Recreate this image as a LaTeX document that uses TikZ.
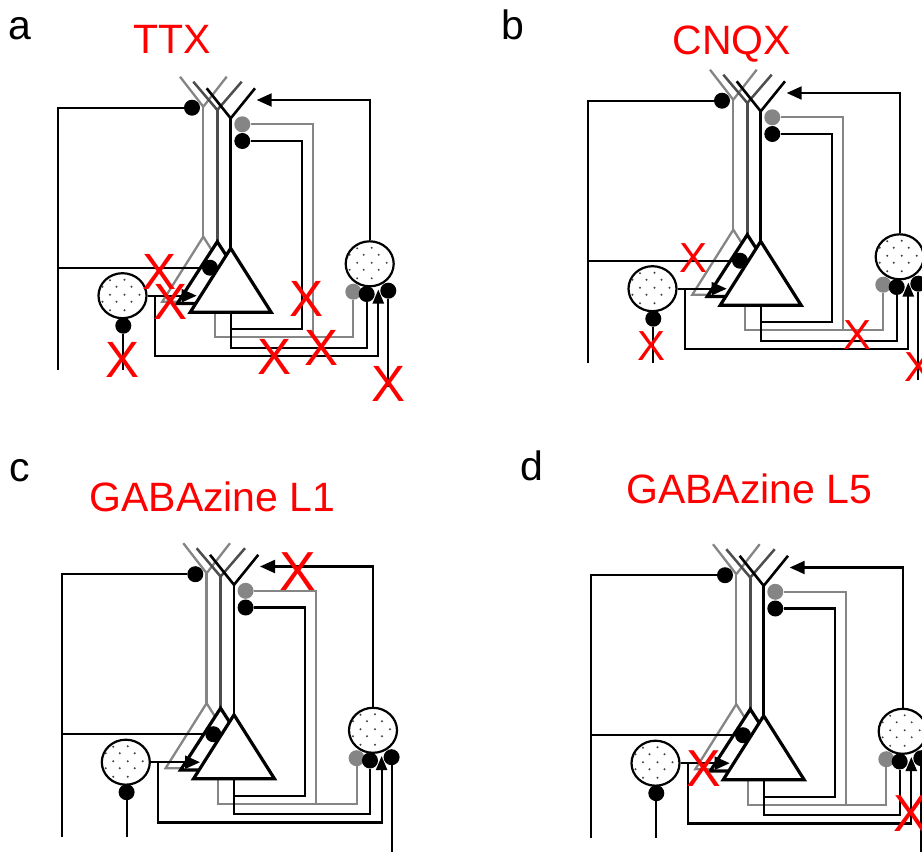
\documentclass[tikz,border=0pt]{standalone}
\usepackage{fontspec}
\setmainfont{Liberation Sans}
\usetikzlibrary{arrows.meta,shapes.geometric}
\pgfdeclarelayer{back}
\pgfsetlayers{back,main}
\definecolor{ngray}{HTML}{858585}
\definecolor{dgray}{HTML}{4D4D4D}
\definecolor{xred}{HTML}{FF0000}
\definecolor{dotgray}{HTML}{444444}
\tikzset{
  ax/.style={line width=2.2pt},
  gax/.style={line width=2.2pt, draw=ngray},
  dend/.style={line width=2.6pt},
  gdend/.style={line width=2.3pt, draw=ngray},
  mdend/.style={line width=2.5pt, draw=dgray},
  soma/.style={line width=3.2pt, draw=black, fill=white, line join=miter},
  gsoma/.style={line width=2.3pt, draw=ngray, fill=white, line join=miter},
  syn/.style={circle, fill=black, draw=none, inner sep=0pt, minimum size=16pt},
  gsyn/.style={syn, fill=ngray},
  inter/.style={ellipse, draw=black, line width=2.2pt, fill=white, minimum width=48pt, minimum height=45pt, inner sep=0pt},
  tipstyle/.style={-{Triangle[length=15pt,width=13pt]}},
  uptip/.style={-{Triangle[length=14pt,width=11pt]}},
  redx/.style={text=xred, inner sep=0pt},
  ttl/.style={text=xred, anchor=base, inner sep=0pt, font=\fontsize{41}{41}\selectfont},
  plab/.style={text=black, anchor=base, inner sep=0pt, font=\fontsize{41}{41}\selectfont},
}
\newcommand\stipple[1]{%
  \begin{scope}[shift={(#1)}]
    \foreach \dx/\dy in {-12.5/-15.5,2/-16,-20/-9,-6/-9,9/-9,-12.5/-1,2/-1,17/-1,-20/6,-6/6,9/6,-12.5/14.5,2/14.5}
      \fill[dotgray] (\dx,\dy) circle (1.1pt);
  \end{scope}}
\newcommand\drawcircuit{%
  % interneurons and synapses
  \node[inter] (li) at (122.5,295.7) {};
  \node[inter] (ri) at (369.7,263.8) {};
  \stipple{122.5,295.7}
  \stipple{369.7,263.8}
  \node[syn]  (tuft)  at (192,107.7) {};
  \node[syn]  (basal) at (210,267.7) {};
  \node[gsyn] (grec)  at (242.3,124.3) {};
  \node[syn]  (frec)  at (242.3,141) {};
  \node[syn]  (lisyn) at (123.3,325.7) {};
  \node[gsyn] (rig)   at (353.3,291.7) {};
  \node[syn]  (rif)   at (366.7,294) {};
  \node[syn]  (rie)   at (388.3,290.7) {};
  \coordinate (riarrow) at (378.3,289.5);
  \coordinate (toptip) at (256.7,100);
  \coordinate (ltip) at (196.7,295.7);
  \begin{pgfonlayer}{back}
    % gray pyramidal neuron (back)
    \draw[gdend] (180,76.7) -- (203.3,106.7) coordinate (gj) -- (226.7,76.7);
    \draw[gdend] (gj) -- (203.3,236.7);
    \draw[gsoma] (203.3,236.7) -- (162.3,301.7) -- (244.3,301.7) -- cycle;
    \draw[gax] (grec.east) -- (312.7,124.3) -- (312.7,337.3);
    \draw[gax] (215,301.7) -- (215,337.3) -- (353.3,337.3) -- (rig.south);
    % middle pyramidal neuron
    \draw[mdend] (193.3,81.7) -- (217.3,110) coordinate (mj) -- (241.7,81.7);
    \draw[mdend] (mj) -- (217.3,241.7);
    \draw[soma] (217.3,241.7) -- (177.3,303.5) -- (257.3,303.5) -- cycle;
    % front pyramidal neuron
    \draw[dend] (206.7,88.3) -- (230.7,118.3) coordinate (fj) -- (255,88.3);
    \draw[dend] (fj) -- (230.7,248.3);
    \draw[soma] (230.7,248.3) -- (190.2,312.3) -- (271.2,312.3) -- cycle;
  \end{pgfonlayer}
  % external input on the left
  \draw[ax] (58.3,370) -- (58.3,107.7) -- (tuft.west);
  \draw[ax] (58.3,267.7) -- (basal.west);
  % left interneuron
  \draw[ax,tipstyle] (li.east) -- (ltip);
  \draw[ax,uptip] (155,295.7) -- (155,356) -- (378.3,356) -- (riarrow);
  \draw[ax] (lisyn.south) -- (123.3,370);
  % right interneuron to tuft
  \draw[ax,tipstyle] (ri.north) -- (369.7,100) -- (toptip);
  % front neuron axon
  \draw[ax] (230.7,312.3) -- (230.7,347.7) -- (366.7,347.7) -- (rif.south);
  \draw[ax] (230.7,329.3) -- (301.7,329.3) -- (301.7,141) -- (frec.east);
  % external input on the right
  \draw[ax] (rie.south) -- (388.3,386.7);
}
\begin{document}
\begin{tikzpicture}[x=1pt,y=-1pt]
\useasboundingbox (0,0) rectangle (922,852);
% panel labels and titles
\node[plab] (la) at (20.3,39.3) {a};
\node[plab] (lb) at (512.7,39.3) {b};
\node[plab] (lc) at (20,481.7) {c};
\node[plab] (ld) at (532.2,480) {d};
\node[ttl] (ta) at (172.2,53.3) {TTX};
\node[ttl] (tb) at (731.7,54.5) {CNQX};
\node[ttl] (tc) at (212.5,511.7) {GABAzine L1};
\node[ttl] (td) at (749.2,503.3) {GABAzine L5};
% circuits
\begin{scope}[name prefix=a-]
  \drawcircuit
\end{scope}
\begin{scope}[name prefix=b-, shift={(530,-7)}]
  \drawcircuit
\end{scope}
\begin{scope}[name prefix=c-, shift={(3.3,466.5)}]
  \drawcircuit
\end{scope}
\begin{scope}[name prefix=d-, shift={(533,467.5)}]
  \drawcircuit
\end{scope}
% blocked connections
\begin{scope}[every node/.style={redx, font=\fontsize{51}{51}\selectfont}]
  \node (xa1) at (159.2,271.7) {X};
  \node (xa2) at (170.8,301.7) {X};
  \node (xa3) at (123,360) {X};
  \node (xa4) at (307,299.2) {X};
  \node (xa5) at (275,357.2) {X};
  \node (xa6) at (322,348.3) {X};
  \node (xa7) at (388.3,383.8) {X};
\end{scope}
\begin{scope}[every node/.style={redx, font=\fontsize{42}{42}\selectfont}]
  \node (xb1) at (693.3,258.3) {X};
  \node (xb2) at (651.7,345.8) {X};
  \node (xb3) at (857.8,335.3) {X};
  \node (xb4) at (918.5,366.7) {X};
\end{scope}
\node[redx, font=\fontsize{55}{55}\selectfont] (xc1) at (298.3,571.7) {X};
\begin{scope}[every node/.style={redx, font=\fontsize{52}{52}\selectfont}]
  \node (xd1) at (704.2,768.3) {X};
  \node (xd2) at (911,814) {X};
\end{scope}
\end{tikzpicture}
\end{document}
